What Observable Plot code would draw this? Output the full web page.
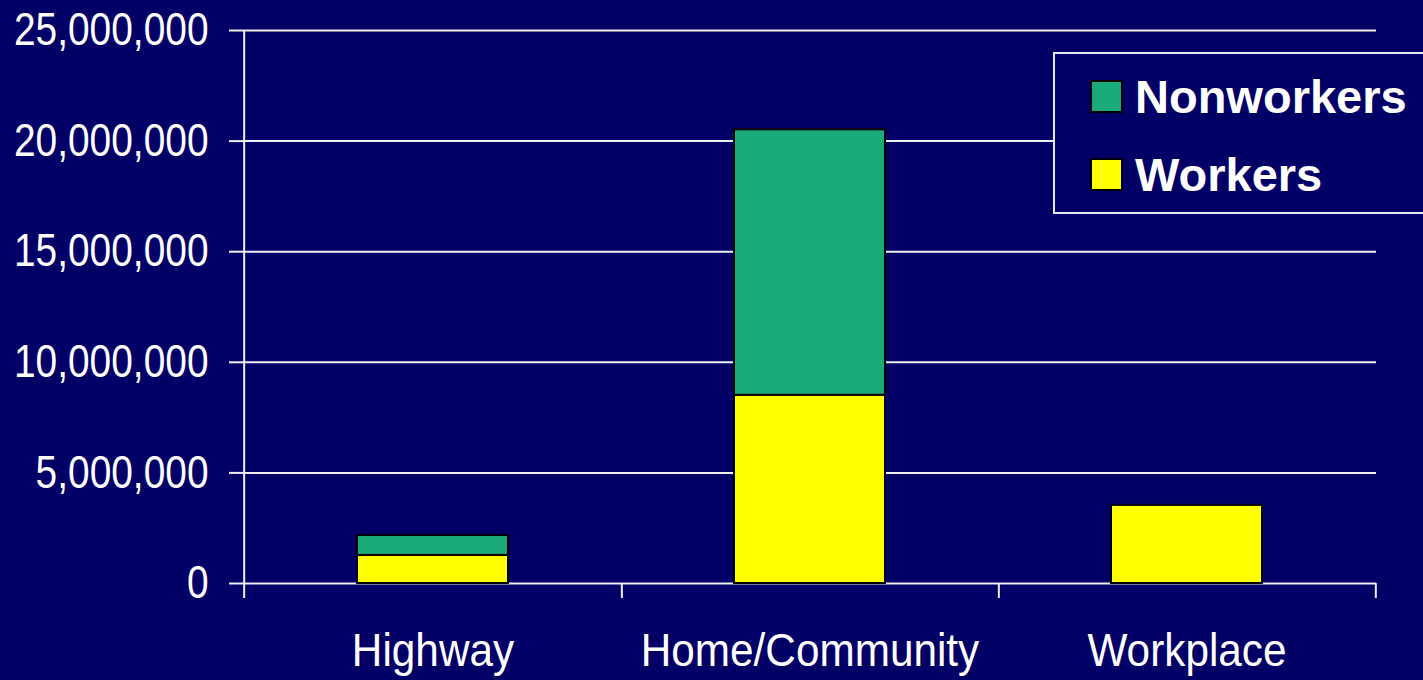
<!DOCTYPE html>
<html>
<head>
<meta charset="utf-8">
<script src="https://cdn.jsdelivr.net/npm/d3@7"></script>
<script src="https://cdn.jsdelivr.net/npm/@observablehq/plot@0.6"></script>
<style>
  html, body { margin: 0; padding: 0; background: #020066; overflow: hidden; }
  #wrap { position: relative; width: 1423px; height: 680px; overflow: hidden; background: #020066; }
  #legend { position: absolute; left: 1053px; top: 52px; width: 420px; height: 158px;
    border: 2px solid #e6e6f0; background: #020066; box-sizing: content-box;
    font-family: "Liberation Sans", Arial, sans-serif; font-weight: bold; font-size: 47px; color: #fff; }
  .item { position: absolute; left: 35px; height: 40px; display: flex; align-items: center; }
  .sw { width: 29px; height: 29px; border: 2px solid #000; margin-right: 12px; }
</style>
</head>
<body>
<div id="wrap"><div id="chart"></div><div id="legend"></div></div>
<script>
const categories = ["Highway", "Home/Community", "Workplace"];
const workers = [1270000, 8510000, 3530000];
const nonworkers = [900000, 12000000, 0];
const seriesNames = ["Workers", "Nonworkers"];
const seriesColors = ["#ffff00", "#1bab7a"];
const legendOrder = ["Nonworkers", "Workers"];
const yTicks = [0, 5000000, 10000000, 15000000, 20000000, 25000000];

const rows = [];
categories.forEach((c, i) => {
  if (workers[i] > 0) rows.push({category: c, series: "Workers", value: workers[i]});
  if (nonworkers[i] > 0) rows.push({category: c, series: "Nonworkers", value: nonworkers[i]});
});

const W = 1423, H = 680, ml = 243, mr = 47, mt = 30, mb = 97;
const step = (W - ml - mr) / categories.length;
const below = 680000; // axis line / tick extension below zero (data units)
const lineColor = "#eeeef4";

const chart = Plot.plot({
  width: W, height: H,
  marginLeft: ml, marginRight: mr, marginTop: mt, marginBottom: mb,
  style: {background: "transparent", color: "#ffffff", fontFamily: "'Liberation Sans', Arial, sans-serif", fontSize: "46px", overflow: "visible"},
  x: {domain: categories, paddingInner: 0.6, paddingOuter: 0.3, axis: null, label: null},
  y: {domain: [0, 25000000], axis: null, label: null},
  color: {domain: seriesNames, range: seriesColors},
  marks: [
    Plot.gridY(yTicks, {stroke: lineColor, strokeOpacity: 1, strokeWidth: 2}),
    Plot.axisY(yTicks, {tickSize: 14, tickPadding: 21, tickFormat: d3.format(","), stroke: lineColor, strokeWidth: 2, fontSize: 46, fill: "#ffffff", label: null}),
    Plot.ruleX([categories[0]], {x: d => d, y1: -below, y2: 25000000, dx: -step / 2, stroke: lineColor, strokeWidth: 2}),
    Plot.ruleX(categories, {x: d => d, y1: -below, y2: 0, dx: step / 2, stroke: lineColor, strokeWidth: 2}),
    Plot.barY(rows, {x: "category", y: "value", fill: "series", stroke: "#000", strokeWidth: 2}),
    Plot.axisX({tickSize: 0, tickPadding: 50, fontSize: 46, fill: "#ffffff", label: null})
  ]
});
document.getElementById("chart").appendChild(chart);

// condense axis label glyphs horizontally (narrow face look)
function condense(sel, s, anchor) {
  sel.each(function() {
    const b = this.getBBox();
    const ax = anchor === "end" ? b.x + b.width : b.x + b.width / 2;
    const t = this.getAttribute("transform") || "";
    this.setAttribute("transform", `${t} translate(${ax},0) scale(${s},1) translate(${-ax},0)`);
  });
}
const texts = d3.select(chart).selectAll("text");
condense(texts.filter(function() { return /^[\d,]+$/.test(this.textContent.trim()); }), 0.845, "end");
condense(texts.filter(function() { return categories.includes(this.textContent.trim()); }), 0.92, "middle");

const legend = document.getElementById("legend");
legendOrder.forEach((s, i) => {
  const item = document.createElement("div");
  item.className = "item";
  item.style.top = (i === 0 ? 22 : 100) + "px";
  const sw = document.createElement("div");
  sw.className = "sw";
  sw.style.background = seriesColors[seriesNames.indexOf(s)];
  const label = document.createElement("span");
  label.textContent = s;
  item.appendChild(sw); item.appendChild(label);
  legend.appendChild(item);
});
</script>
</body>
</html>
